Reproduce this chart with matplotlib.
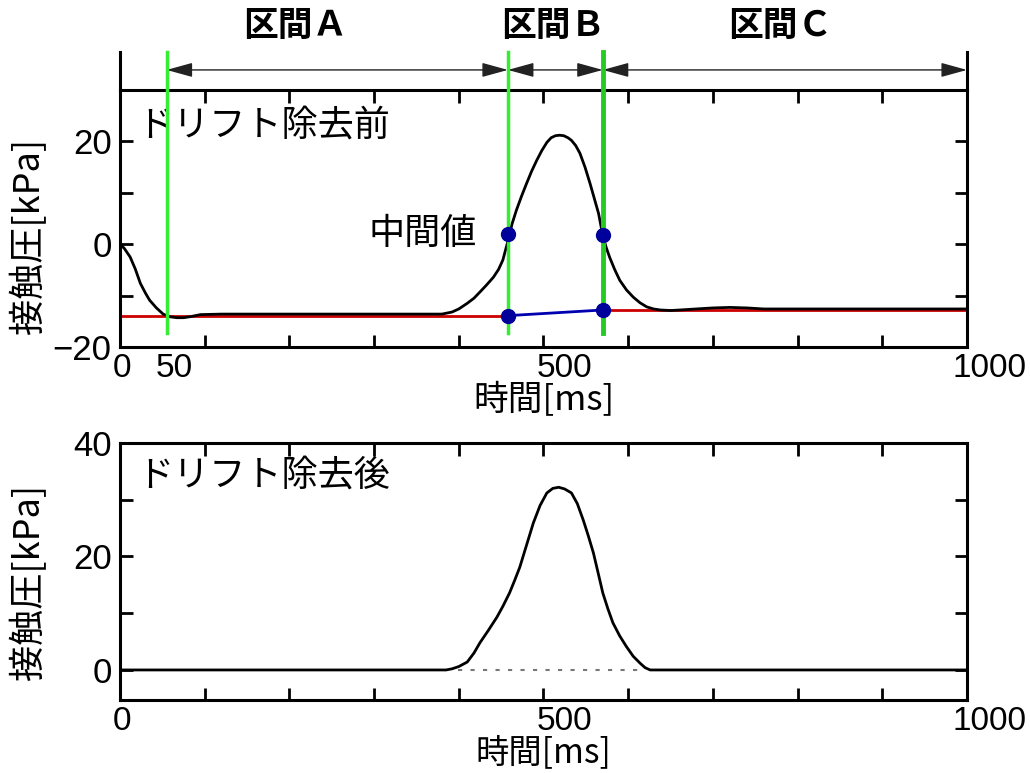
import matplotlib
matplotlib.use("Agg")
import matplotlib.pyplot as plt
import matplotlib.transforms as mtransforms

plt.rcParams['font.family'] = ['Noto Sans CJK JP', 'DejaVu Sans']
NUM_FONT = ['Liberation Sans Narrow', 'Liberation Sans', 'DejaVu Sans']

# raw contact pressure (before drift removal)
t_raw = [0, 5, 12, 18, 24, 30, 35, 43, 51, 58, 67, 75, 83, 95, 120, 200, 300,
         380, 392, 400, 410, 418, 425, 433, 441, 447, 452, 458, 463, 468, 474,
         480, 486, 492, 498, 504, 509, 514, 519, 524, 529, 533, 538, 543, 549,
         555, 560, 565, 570, 574, 578, 584, 590, 598, 606, 614, 622, 630, 638,
         650, 661, 680, 700, 720, 740, 760, 800, 900, 1000]
p_raw = [0.0, -0.8, -2.5, -4.8, -7.6, -9.5, -10.9, -12.4, -13.6, -14.1, -14.3,
         -14.3, -14.1, -13.7, -13.6, -13.6, -13.6, -13.6, -13.2, -12.6, -11.5,
         -10.5, -9.3, -7.9, -6.4, -4.9, -3.1, 0.6, 4.0, 6.6, 9.3, 11.8, 14.2,
         16.3, 18.2, 19.8, 20.7, 21.1, 21.2, 21.1, 20.7, 20.2, 19.2, 17.7, 15.0,
         11.8, 8.9, 6.0, 1.7, -0.6, -2.5, -4.9, -7.0, -8.9, -10.3, -11.4, -12.2,
         -12.6, -12.8, -12.9, -12.8, -12.6, -12.4, -12.3, -12.4, -12.6, -12.6,
         -12.6, -12.6]

# corrected contact pressure (after drift removal)
t_corr = [0, 385, 392, 400, 410, 418, 425, 435, 445, 452, 460, 466, 472, 480,
          488, 496, 504, 511, 518, 525, 533, 540, 547, 553, 559, 565, 570, 576,
          582, 590, 598, 606, 614, 620, 626, 1000]
p_corr = [0.0, 0.0, 0.2, 0.6, 1.4, 3.0, 4.8, 7.0, 9.3, 11.2, 13.6, 15.8, 18.1,
          22.0, 25.9, 29.0, 31.2, 32.0, 32.2, 31.9, 31.2, 29.3, 26.4, 23.6,
          20.6, 16.8, 13.6, 10.8, 8.3, 6.0, 4.1, 2.4, 1.2, 0.4, 0.0, 0.0]

# section boundaries [ms]
bounds = [55, 458, 570, 1000]
sections = ['区間Ａ', '区間Ｂ', '区間Ｃ']

# baseline segments (red) and interpolated drift (blue)
base_a_t = [0, 458]
base_a_v = [-13.9, -13.9]
base_c_t = [570, 1000]
base_c_v = [-12.8, -12.8]
mid_t = [458, 570]
mid_v = [1.9, 1.7]
drift_v = [-13.9, -12.8]

x_ticks = list(range(0, 1001, 100))
x_labels = ['0', '', '', '', '', '500', '', '', '', '', '1000']

fig = plt.figure(figsize=(10.3, 7.73), dpi=100)
ax1 = fig.add_axes([0.1165, 0.5511, 0.8223, 0.3325])
ax2 = fig.add_axes([0.1165, 0.0944, 0.8223, 0.3325])


def nudge(lab, px):
    # tick labels start slightly left of their tick
    off = mtransforms.ScaledTranslation(px / 100, 0, fig.dpi_scale_trans)
    lab.set_family(NUM_FONT)
    lab.set_horizontalalignment('left')
    lab.set_transform(lab.get_transform() + off)


def style(ax, ylim, ymajor, ylabels, xpad, xsize):
    ax.set_xlim(0, 1000)
    ax.set_ylim(*ylim)
    ax.set_xticks(x_ticks)
    ax.set_xticklabels(x_labels)
    ax.set_yticks(ymajor)
    ax.set_yticklabels(ylabels)
    ax.tick_params(direction='in', length=9, width=2, top=True, right=True,
                   labelsize=25, pad=6)
    ax.tick_params(axis='x', pad=4, labelsize=24)
    for s in ax.spines.values():
        s.set_linewidth(2.2)
    for lab in ax.get_yticklabels():
        lab.set_family(NUM_FONT)
    for lab in ax.get_xticklabels():
        nudge(lab, -14 if lab.get_text() == '1000' else -7)
    ax.set_xlabel('時間[ms]', fontsize=xsize, labelpad=xpad)
    ax.set_ylabel('接触圧[kPa]', fontsize=26)


# --- before drift removal ---
style(ax1, (-20, 30), [-20, -10, 0, 10, 20], ['−20', '', '0', '', '20'], 0, 25)
ax1.set_xticks([50], minor=True)
ax1.set_xticklabels(['50'], minor=True)
ax1.tick_params(axis='x', which='minor', length=0, labelsize=24, pad=4)
for lab in ax1.get_xticklabels(minor=True):
    nudge(lab, -7)
ax1.yaxis.set_label_coords(-0.086, 0.43)

ax1.plot(base_a_t, base_a_v, color='#cc0000', lw=2, zorder=2)
ax1.plot(base_c_t, base_c_v, color='#cc0000', lw=2, zorder=2)
ax1.plot(t_raw, p_raw, color='black', lw=2, zorder=3)
ax1.plot(mid_t, drift_v, color='#0000b0', lw=2, zorder=4)

# vertical boundary lines, running up into the arrow band
green_top = 37.4
ax1.plot([bounds[0]] * 2, [-17.3, green_top], color='#33ee33', lw=2.5,
         clip_on=False, zorder=5)
ax1.plot([bounds[1]] * 2, [-17.3, green_top], color='#33ee33', lw=2.5,
         clip_on=False, zorder=5)
ax1.plot([bounds[2]] * 2, [-17.3, green_top], color='#22cc22', lw=3.5,
         clip_on=False, zorder=5)
for xv in (0, 1000):
    ax1.plot([xv, xv], [30, green_top], color='black', lw=2.2,
             clip_on=False, zorder=5)

ax1.plot(mid_t, mid_v, 'o', color='#00009a', ms=10, zorder=6)
ax1.plot(mid_t, drift_v, 'o', color='#00009a', ms=10, zorder=6)

arrow_y = 33.9
for i in range(len(sections)):
    x0, x1 = bounds[i], bounds[i + 1]
    ax1.annotate('', xy=(x1, arrow_y), xytext=(x0, arrow_y),
                 arrowprops=dict(arrowstyle='<|-|>,head_length=0.8,head_width=0.22',
                                 color='#222222', lw=1, shrinkA=0, shrinkB=0,
                                 mutation_scale=20),
                 annotation_clip=False)
label_x = [207, 511, 779]
for xv, name in zip(label_x, sections):
    ax1.text(xv, 42.5, name, ha='center', va='center', fontsize=25,
             fontweight='bold', clip_on=False)

ax1.text(0.02, 0.86, 'ドリフト除去前', transform=ax1.transAxes, fontsize=26,
         va='center', ha='left')
ax1.text(421, 1.9, '中間値', fontsize=26, ha='right', va='center')

# --- after drift removal ---
style(ax2, (-5.3, 40), [0, 10, 20, 30, 40], ['0', '', '20', '', '40'], -1, 24)
ax2.yaxis.set_label_coords(-0.086, 0.46)
ax2.plot([399, 617], [0, 0], color='#777777', lw=1.5, ls=(0, (2, 4)), zorder=2)
ax2.plot(t_corr, p_corr, color='black', lw=2, zorder=3)
ax2.text(0.02, 0.875, 'ドリフト除去後', transform=ax2.transAxes, fontsize=26,
         va='center', ha='left')

fig.savefig('out.png', dpi=100)
